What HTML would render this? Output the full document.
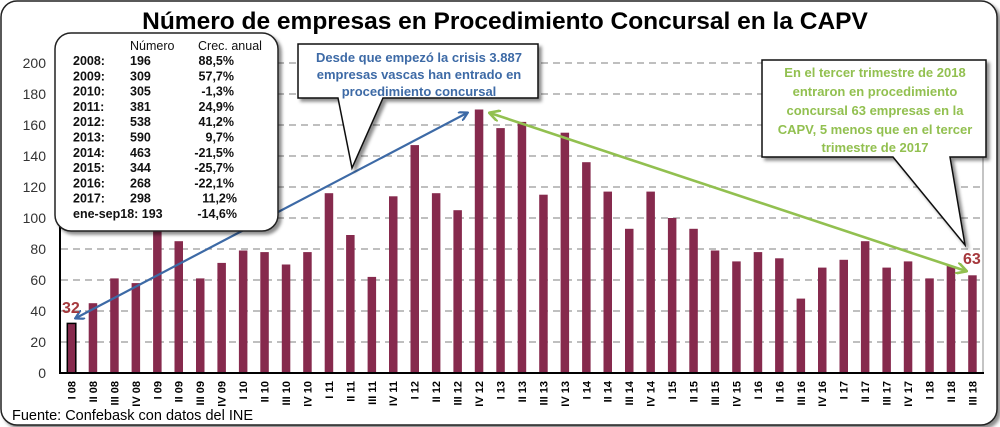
<!DOCTYPE html>
<html><head><meta charset="utf-8"><style>
html,body{margin:0;padding:0;background:#fff;}
svg{display:block;font-family:"Liberation Sans",sans-serif;}
</style></head><body>
<svg width="1000" height="427" viewBox="0 0 1000 427" xmlns="http://www.w3.org/2000/svg">
<defs>
<filter id="sh" x="-10%" y="-10%" width="130%" height="130%"><feDropShadow dx="3" dy="3" stdDeviation="1.5" flood-color="#000" flood-opacity="0.45"/></filter>
<marker id="ab" markerWidth="10" markerHeight="10" refX="8" refY="5" orient="auto-start-reverse" markerUnits="userSpaceOnUse"><path d="M0,0 L9,5 L0,10" fill="none" stroke="#3d6aa6" stroke-width="2.2"/></marker>
<marker id="ag" markerWidth="12" markerHeight="12" refX="10" refY="6" orient="auto-start-reverse" markerUnits="userSpaceOnUse"><path d="M0,0 L11,6 L0,12" fill="none" stroke="#92c050" stroke-width="2.6"/></marker>
</defs>
<rect x="1" y="1" width="996" height="424" rx="16" fill="#fff" stroke="#222" stroke-width="1.5" filter="url(#sh)"/>
<text x="505" y="29" text-anchor="middle" font-size="24.5" font-weight="bold" fill="#000">Número de empresas en Procedimiento Concursal en la CAPV</text>
<g stroke="#999" stroke-width="1.2" stroke-dasharray="7,5">
<line x1="61" x2="983" y1="342" y2="342"/><line x1="61" x2="983" y1="311" y2="311"/><line x1="61" x2="983" y1="280" y2="280"/><line x1="61" x2="983" y1="249" y2="249"/><line x1="61" x2="983" y1="218" y2="218"/><line x1="61" x2="983" y1="187" y2="187"/><line x1="61" x2="983" y1="156" y2="156"/><line x1="61" x2="983" y1="125" y2="125"/><line x1="61" x2="983" y1="94" y2="94"/><line x1="61" x2="983" y1="63" y2="63"/>
</g>
<line x1="983" y1="63" x2="983" y2="373" stroke="#888" stroke-width="1"/>
<g font-size="14" fill="#333" text-anchor="end">
<text x="46" y="378">0</text><text x="46" y="347">20</text><text x="46" y="316">40</text><text x="46" y="285">60</text><text x="46" y="254">80</text><text x="46" y="223">100</text><text x="46" y="192">120</text><text x="46" y="161">140</text><text x="46" y="130">160</text><text x="46" y="99">180</text><text x="46" y="68">200</text>
</g>
<g transform="translate(0,373) scale(1,-1)" fill="#862a4d">
<rect x="67.3" width="8.5" height="49.6" fill="#862a4d" stroke="#000" stroke-width="1.5"/>
<rect x="88.7" width="8.5" height="69.8"/><rect x="110.2" width="8.5" height="94.6"/><rect x="131.6" width="8.5" height="89.9"/><rect x="153.1" width="8.5" height="142.6"/><rect x="174.5" width="8.5" height="131.8"/><rect x="196.0" width="8.5" height="94.6"/><rect x="217.4" width="8.5" height="110.1"/><rect x="238.9" width="8.5" height="122.5"/><rect x="260.3" width="8.5" height="120.9"/><rect x="281.8" width="8.5" height="108.5"/><rect x="303.2" width="8.5" height="120.9"/><rect x="324.7" width="8.5" height="179.8"/><rect x="346.1" width="8.5" height="138.0"/><rect x="367.6" width="8.5" height="96.1"/><rect x="389.0" width="8.5" height="176.7"/><rect x="410.5" width="8.5" height="227.9"/><rect x="431.9" width="8.5" height="179.8"/><rect x="453.4" width="8.5" height="162.8"/><rect x="474.8" width="8.5" height="263.5"/><rect x="496.3" width="8.5" height="244.9"/><rect x="517.7" width="8.5" height="251.1"/><rect x="539.2" width="8.5" height="178.3"/><rect x="560.6" width="8.5" height="240.3"/><rect x="582.1" width="8.5" height="210.8"/><rect x="603.5" width="8.5" height="181.4"/><rect x="625.0" width="8.5" height="144.2"/><rect x="646.4" width="8.5" height="181.4"/><rect x="667.9" width="8.5" height="155"/><rect x="689.3" width="8.5" height="144.2"/><rect x="710.8" width="8.5" height="122.5"/><rect x="732.2" width="8.5" height="111.6"/><rect x="753.7" width="8.5" height="120.9"/><rect x="775.1" width="8.5" height="114.7"/><rect x="796.6" width="8.5" height="74.4"/><rect x="818.0" width="8.5" height="105.4"/><rect x="839.5" width="8.5" height="113.2"/><rect x="860.9" width="8.5" height="131.8"/><rect x="882.4" width="8.5" height="105.4"/><rect x="903.8" width="8.5" height="111.6"/><rect x="925.3" width="8.5" height="94.6"/><rect x="946.7" width="8.5" height="107.0"/><rect x="968.2" width="8.5" height="97.7"/>
</g>
<line x1="60" y1="62" x2="60" y2="374" stroke="#000" stroke-width="2"/>
<line x1="59" y1="373" x2="984" y2="373" stroke="#000" stroke-width="2"/>
<g font-size="11" font-weight="bold" fill="#000" text-anchor="end">
<text transform="translate(75.5,381) rotate(-90)">I 08</text>
<text transform="translate(96.9,381) rotate(-90)">II 08</text>
<text transform="translate(118.4,381) rotate(-90)">III 08</text>
<text transform="translate(139.8,381) rotate(-90)">IV 08</text>
<text transform="translate(161.3,381) rotate(-90)">I 09</text>
<text transform="translate(182.7,381) rotate(-90)">II 09</text>
<text transform="translate(204.2,381) rotate(-90)">III 09</text>
<text transform="translate(225.6,381) rotate(-90)">IV 09</text>
<text transform="translate(247.1,381) rotate(-90)">I 10</text>
<text transform="translate(268.5,381) rotate(-90)">II 10</text>
<text transform="translate(290.0,381) rotate(-90)">III 10</text>
<text transform="translate(311.4,381) rotate(-90)">IV 10</text>
<text transform="translate(332.9,381) rotate(-90)">I 11</text>
<text transform="translate(354.3,381) rotate(-90)">II 11</text>
<text transform="translate(375.8,381) rotate(-90)">III 11</text>
<text transform="translate(397.2,381) rotate(-90)">IV 11</text>
<text transform="translate(418.7,381) rotate(-90)">I 12</text>
<text transform="translate(440.1,381) rotate(-90)">II 12</text>
<text transform="translate(461.6,381) rotate(-90)">III 12</text>
<text transform="translate(483.0,381) rotate(-90)">IV 12</text>
<text transform="translate(504.5,381) rotate(-90)">I 13</text>
<text transform="translate(525.9,381) rotate(-90)">II 13</text>
<text transform="translate(547.4,381) rotate(-90)">III 13</text>
<text transform="translate(568.8,381) rotate(-90)">IV 13</text>
<text transform="translate(590.3,381) rotate(-90)">I 14</text>
<text transform="translate(611.7,381) rotate(-90)">II 14</text>
<text transform="translate(633.2,381) rotate(-90)">III 14</text>
<text transform="translate(654.6,381) rotate(-90)">IV 14</text>
<text transform="translate(676.1,381) rotate(-90)">I 15</text>
<text transform="translate(697.5,381) rotate(-90)">II 15</text>
<text transform="translate(719.0,381) rotate(-90)">III 15</text>
<text transform="translate(740.4,381) rotate(-90)">IV 15</text>
<text transform="translate(761.9,381) rotate(-90)">I 16</text>
<text transform="translate(783.3,381) rotate(-90)">II 16</text>
<text transform="translate(804.8,381) rotate(-90)">III 16</text>
<text transform="translate(826.2,381) rotate(-90)">IV 16</text>
<text transform="translate(847.7,381) rotate(-90)">I 17</text>
<text transform="translate(869.1,381) rotate(-90)">II 17</text>
<text transform="translate(890.6,381) rotate(-90)">III 17</text>
<text transform="translate(912.0,381) rotate(-90)">IV 17</text>
<text transform="translate(933.5,381) rotate(-90)">I 18</text>
<text transform="translate(954.9,381) rotate(-90)">II 18</text>
<text transform="translate(976.4,381) rotate(-90)">III 18</text>
</g>
<text x="12" y="420" font-size="14.5" fill="#000">Fuente: Confebask con datos del INE</text>
<!-- arrows -->
<line x1="76" y1="318" x2="467" y2="113" stroke="#3d6aa6" stroke-width="2.2" marker-start="url(#ab)" marker-end="url(#ab)"/>
<line x1="490" y1="113" x2="966" y2="271" stroke="#92c050" stroke-width="2.6" marker-start="url(#ag)" marker-end="url(#ag)"/>
<text x="62" y="313" font-size="16" font-weight="bold" fill="#a5383c">32</text>
<text x="963" y="264" font-size="16" font-weight="bold" fill="#a5383c">63</text>
<!-- table box -->
<rect x="55" y="33" width="223" height="198" rx="16" fill="#fff" stroke="#222" stroke-width="1.5" filter="url(#sh)"/>
<g font-size="12.5" font-weight="bold" fill="#111">
<text x="130" y="50" font-weight="normal">Número</text><text x="198" y="50" font-weight="normal">Crec. anual</text>
<text x="73" y="65">2008:</text><text x="130" y="65">196</text><text x="234" y="65" text-anchor="end">88,5%</text>
<text x="73" y="80.3">2009:</text><text x="130" y="80.3">309</text><text x="234" y="80.3" text-anchor="end">57,7%</text>
<text x="73" y="95.6">2010:</text><text x="130" y="95.6">305</text><text x="234" y="95.6" text-anchor="end">-1,3%</text>
<text x="73" y="110.9">2011:</text><text x="130" y="110.9">381</text><text x="234" y="110.9" text-anchor="end">24,9%</text>
<text x="73" y="126.2">2012:</text><text x="130" y="126.2">538</text><text x="234" y="126.2" text-anchor="end">41,2%</text>
<text x="73" y="141.5">2013:</text><text x="130" y="141.5">590</text><text x="234" y="141.5" text-anchor="end">9,7%</text>
<text x="73" y="156.8">2014:</text><text x="130" y="156.8">463</text><text x="234" y="156.8" text-anchor="end">-21,5%</text>
<text x="73" y="172.1">2015:</text><text x="130" y="172.1">344</text><text x="234" y="172.1" text-anchor="end">-25,7%</text>
<text x="73" y="187.4">2016:</text><text x="130" y="187.4">268</text><text x="234" y="187.4" text-anchor="end">-22,1%</text>
<text x="73" y="202.7">2017:</text><text x="130" y="202.7">298</text><text x="237" y="202.7" text-anchor="end">11,2%</text>
<text x="73" y="218">ene-sep18: 193</text><text x="237" y="218" text-anchor="end">-14,6%</text>
</g>
<!-- callout 1 -->
<path d="M298,44 H538 V98 H383 L352,168 L338,98 H298 Z" fill="#fff" stroke="#111" stroke-width="1.5" filter="url(#sh)"/>
<g font-size="13" font-weight="bold" fill="#3d6aa6" text-anchor="middle">
<text x="419" y="62">Desde que empezó la crisis 3.887</text>
<text x="419" y="79">empresas vascas han entrado en</text>
<text x="419" y="96">procedimiento concursal</text>
</g>
<!-- callout 2 -->
<path d="M762,60 H986 V157 H950 L965,245 L893,157 H762 Z" fill="#fff" stroke="#111" stroke-width="1.5" filter="url(#sh)"/>
<g font-size="13" font-weight="bold" fill="#92c050" text-anchor="middle">
<text x="875" y="77">En el tercer trimestre de 2018</text>
<text x="875" y="96">entraron en procedimiento</text>
<text x="875" y="115">concursal 63 empresas en la</text>
<text x="875" y="134">CAPV, 5 menos que en el tercer</text>
<text x="875" y="152">trimestre de 2017</text>
</g>
</svg>
</body></html>
